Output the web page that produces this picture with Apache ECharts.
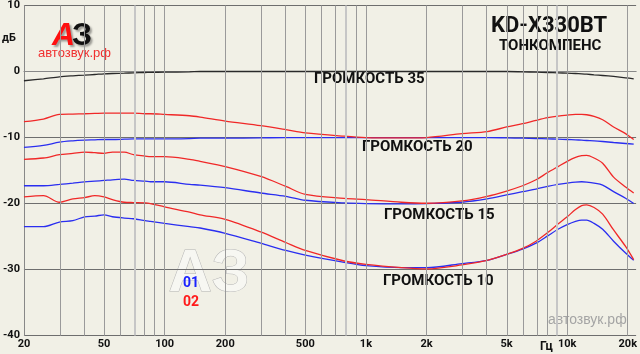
<!DOCTYPE html>
<html>
<head>
<meta charset="utf-8" />
<title>KD-X330BT тонкомпенс</title>
<script src="https://cdn.jsdelivr.net/npm/echarts@6/dist/echarts.min.js"></script>
<style>
  html, body { margin: 0; padding: 0; background: #f1f0e6; }
  #main { width: 640px; height: 354px; }
</style>
</head>
<body>
<div id="main"></div>
<script type="text/javascript">
// частоты, Гц
var freqs = [20, 25, 30, 35, 40, 45, 50, 55, 63, 70, 80, 85, 100, 133, 150, 200, 300, 400, 500, 780,
             1000, 1500, 2000, 3000, 4000, 5000, 6000, 7000, 8000, 9000, 10000, 11000, 11800, 12500, 13600, 15000, 17000, 19500, 21400];
// громкость 35 (одна кривая)
var vol35 = [-1.4, -1.1, -0.8, -0.65, -0.55, -0.45, -0.35, -0.3, -0.25, -0.2, -0.15, -0.12, -0.1, -0.05, 0, 0, 0, 0, 0, 0,
             0, 0, 0, 0, 0, 0, -0.05, -0.1, -0.15, -0.2, -0.25, -0.3, -0.35, -0.4, -0.5, -0.6, -0.75, -0.95, -1.1];
// громкость 20
var vol20red = [-7.6, -7.2, -6.5, -6.45, -6.4, -6.35, -6.3, -6.3, -6.3, -6.3, -6.4, -6.4, -6.5, -6.7, -6.9, -7.5, -8.2, -8.8, -9.3, -9.8,
                -10.0, -10.05, -10.0, -9.4, -9.1, -8.4, -7.9, -7.4, -7.0, -6.75, -6.6, -6.5, -6.5, -6.55, -6.8, -7.3, -8.4, -9.4, -10.3];
var vol20blue = [-11.5, -11.2, -10.7, -10.5, -10.4, -10.35, -10.3, -10.3, -10.25, -10.2, -10.2, -10.2, -10.2, -10.15, -10.1, -10.1, -10.05, -10.0, -10.0, -10.0,
                 -10.0, -10.0, -10.0, -10.0, -10.0, -10.05, -10.1, -10.15, -10.2, -10.25, -10.3, -10.35, -10.4, -10.45, -10.5, -10.6, -10.75, -10.9, -11.0];
// громкость 15
var vol15red = [-13.3, -13.1, -12.6, -12.4, -12.2, -12.3, -12.4, -12.2, -12.2, -12.6, -12.8, -12.9, -12.9, -13.3, -13.6, -14.4, -15.9, -17.4, -18.6, -19.2,
                -19.4, -19.8, -19.95, -19.6, -18.9, -18.1, -17.3, -16.4, -15.3, -14.4, -13.6, -13.0, -12.75, -12.7, -13.1, -13.9, -16.0, -17.5, -18.4];
var vol15blue = [-17.3, -17.3, -17.1, -16.9, -16.7, -16.6, -16.5, -16.4, -16.3, -16.5, -16.6, -16.7, -16.7, -17.1, -17.2, -17.6, -18.4, -18.9, -19.5, -19.9,
                 -20.0, -20.05, -20.0, -19.8, -19.3, -18.7, -18.2, -17.8, -17.4, -17.1, -16.9, -16.75, -16.7, -16.75, -16.9, -17.2, -18.2, -19.2, -20.0];
// громкость 10
var vol10red = [-19.0, -18.8, -19.8, -19.3, -19.1, -18.8, -19.0, -19.4, -19.8, -19.85, -19.9, -20.0, -20.5, -21.3, -21.7, -22.4, -24.3, -25.9, -27.1, -28.7,
                -29.2, -29.7, -29.9, -29.3, -28.6, -27.7, -26.8, -25.7, -24.4, -23.1, -22.0, -20.9, -20.3, -20.2, -20.6, -21.6, -24.0, -26.5, -28.5];
var vol10blue = [-23.5, -23.5, -22.8, -22.6, -22.0, -21.9, -21.7, -22.0, -22.2, -22.3, -22.6, -22.7, -23.0, -23.5, -23.7, -24.5, -26.0, -27.1, -27.8, -28.9,
                 -29.4, -29.7, -29.7, -29.1, -28.6, -27.7, -26.9, -26.0, -24.9, -23.9, -23.2, -22.7, -22.5, -22.5, -23.0, -23.9, -25.7, -27.5, -28.6];

// подписи оси частот
var tickFreqs = [20, 50, 100, 200, 500, 1000, 2000, 5000, 10000, 20000];
var tickLabels = ['20', '50', '100', '200', '500', '1k', '2k', '5k', '10k', '20k'];
// вертикальная сетка
var gridFreqs = [30, 40, 50, 60, 80, 90, 100, 200, 300, 400, 500, 600, 700, 900,
                 1000, 2000, 3000, 4000, 5000, 6000, 7000, 8000, 10000, 20000];
var lightFreqs = [70, 800, 9000];

var lg = function (f) { return Math.log10(f); };
function pts(vals) {
    return freqs.map(function (f, i) { return [lg(f), vals[i]]; });
}
function curve(name, vals, color, z) {
    return {
        name: name, type: 'line', data: pts(vals), showSymbol: false, smooth: 0.3,
        lineStyle: { color: color, width: 1.3 }, z: z, silent: true, animation: false
    };
}
function vline(list, color, width) {
    return {
        type: 'line', data: [], z: 1, silent: true, animation: false,
        markLine: {
            silent: true, symbol: ['none', 'none'], animation: false,
            label: { show: false },
            lineStyle: { color: color, width: width, type: 'solid' },
            data: list.map(function (f) { return { xAxis: lg(f) }; })
        }
    };
}

var RED = '#f02828', BLUE = '#2a2ef0';
var boldFont = 'Roboto';

var myChart = echarts.init(document.getElementById('main'));
var option = {
    backgroundColor: '#f1f0e6',
    animation: false,
    grid: { left: 21, right: 0, top: 2.4, bottom: 18.4 },
    xAxis: {
        type: 'value', min: lg(20), max: lg(22000),
        axisLine: { lineStyle: { color: '#888', width: 1 } },
        axisTick: { show: false },
        splitLine: { show: false },
        axisLabel: {
            customValues: tickFreqs.map(lg),
            margin: 3,
            color: '#111', fontFamily: boldFont, fontWeight: 'bold', fontSize: 11,
            formatter: function (v) {
                var best = 0;
                tickFreqs.forEach(function (f, i) {
                    if (Math.abs(lg(f) - v) < Math.abs(lg(tickFreqs[best]) - v)) best = i;
                });
                return tickLabels[best];
            }
        }
    },
    yAxis: {
        type: 'value', min: -40, max: 10, interval: 10,
        axisLine: { show: true, lineStyle: { color: '#888', width: 1 } },
        axisTick: { show: false },
        splitLine: { lineStyle: { color: '#6e6e6e', width: 1 } },
        axisLabel: { margin: 4, color: '#111', fontFamily: boldFont, fontWeight: 'bold', fontSize: 11 }
    },
    graphic: [
        { type: 'text', left: 2, top: 33, style: { text: 'дБ', font: 'bold 11px Roboto', fill: '#111' } },
        { type: 'text', left: 540, top: 341, style: { text: 'Гц', font: 'bold 12px Roboto', fill: '#111' } },
        { type: 'text', left: 491, top: 15, style: { text: 'KD-X330BT', font: 'bold 22px Roboto', fill: '#111' } },
        { type: 'text', left: 499, top: 39, style: { text: 'ТОНКОМПЕНС', font: 'bold 15px Roboto', fill: '#111' } },
        // логотип
        { type: 'text', left: 52, top: 20, z: 5, style: { text: 'А', font: 'bold italic 32px "Liberation Sans"', fill: '#ff1010', textShadowColor: 'rgba(0,0,0,0.35)', textShadowOffsetX: 2, textShadowOffsetY: 2, textShadowBlur: 2 } },
        { type: 'text', left: 72, top: 20, z: 5, style: { text: 'З', font: 'bold 32px "Liberation Sans"', fill: '#111', textShadowColor: 'rgba(0,0,0,0.35)', textShadowOffsetX: 2, textShadowOffsetY: 2, textShadowBlur: 2 } },
        { type: 'text', left: 38, top: 47, z: 5, style: { text: 'автозвук.рф', font: '13px "Liberation Sans"', fill: '#f03030' } },
        { type: 'text', left: 548, top: 313, style: { text: 'автозвук.рф', font: '14px "Liberation Sans"', fill: '#a4a4a4' } },
        // водяной знак
        { type: 'text', left: 168, top: 244, z: 0, style: { text: 'АЗ', font: 'bold 60px "Liberation Sans"', fill: '#f7f7f2', stroke: '#b4b4b4', lineWidth: 1 } },
        { type: 'text', left: 183, top: 276, z: 6, style: { text: '01', font: 'bold 14px Roboto', fill: '#1a22ff' } },
        { type: 'text', left: 183, top: 295, z: 6, style: { text: '02', font: 'bold 14px Roboto', fill: '#ff1a1a' } },
        // подписи кривых
        { type: 'text', left: 314, top: 72, style: { text: 'ГРОМКОСТЬ 35', font: 'bold 15px Roboto', fill: '#111' } },
        { type: 'text', left: 362, top: 140, style: { text: 'ГРОМКОСТЬ 20', font: 'bold 15px Roboto', fill: '#111' } },
        { type: 'text', left: 384, top: 208, style: { text: 'ГРОМКОСТЬ 15', font: 'bold 15px Roboto', fill: '#111' } },
        { type: 'text', left: 383, top: 274, style: { text: 'ГРОМКОСТЬ 10', font: 'bold 15px Roboto', fill: '#111' } }
    ],
    series: [
        vline(gridFreqs, '#9a9a9a', 1),
        vline(lightFreqs, '#c6c6c6', 2),
        curve('35', vol35, '#2a2a2a', 3),
        curve('20 blue', vol20blue, BLUE, 3),
        curve('15 blue', vol15blue, BLUE, 3),
        curve('10 blue', vol10blue, BLUE, 3),
        curve('20 red', vol20red, RED, 4),
        curve('15 red', vol15red, RED, 4),
        curve('10 red', vol10red, RED, 4)
    ]
};
myChart.setOption(option);
</script>
</body>
</html>
